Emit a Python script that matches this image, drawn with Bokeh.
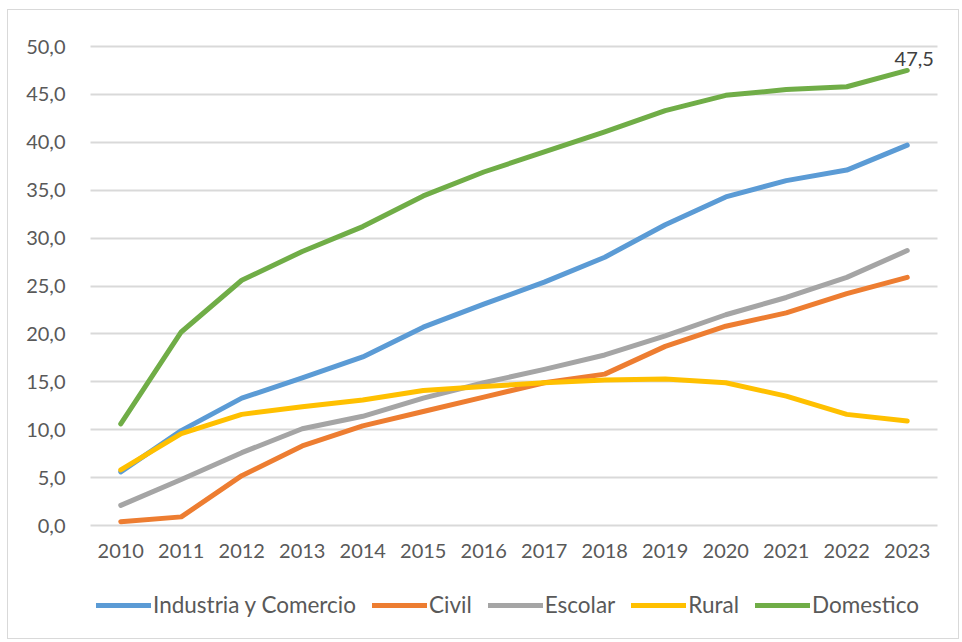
from bokeh.plotting import figure
from bokeh.models import (ColumnDataSource, Range1d, Legend, LegendItem,
                          FixedTicker, CustomJSTickFormatter)
from bokeh.core.properties import value
from bokeh.embed import file_html
from bokeh.resources import INLINE

years = list(range(2010, 2024))
industria = [5.6, 9.9, 13.3, 15.4, 17.6, 20.7, 23.1, 25.4, 28.0, 31.4, 34.3, 36.0, 37.1, 39.7]
civil = [0.4, 0.9, 5.2, 8.3, 10.4, 11.9, 13.4, 14.9, 15.8, 18.7, 20.8, 22.2, 24.2, 25.9]
escolar = [2.1, 4.8, 7.6, 10.1, 11.4, 13.3, 14.9, 16.3, 17.8, 19.8, 22.0, 23.8, 25.9, 28.7]
rural = [5.8, 9.6, 11.6, 12.4, 13.1, 14.1, 14.5, 14.9, 15.2, 15.3, 14.9, 13.5, 11.6, 10.9]
domestico = [10.6, 20.2, 25.6, 28.6, 31.2, 34.4, 36.9, 39.0, 41.1, 43.3, 44.9, 45.5, 45.8, 47.5]
series_names = ["Industria y Comercio", "Civil", "Escolar", "Rural", "Domestico"]
y_ticks = [0, 5, 10, 15, 20, 25, 30, 35, 40, 45, 50]

colors = ["#5B9BD5", "#ED7D31", "#A5A5A5", "#FFC000", "#70AD47"]
FONT = "Lato"
TXT = "#595959"

# layout (pixels inside the figure)
W, H = 952, 630
PLOT_L, PLOT_R = 82, 929        # left / right edge of the plotting area
Y0_PX, Y50_PX = 515, 36         # pixel rows of 0 and 50
x_lo, x_hi = years[0] - 0.5, years[-1] + 0.5
xpx = (PLOT_R - PLOT_L) / (x_hi - x_lo)
ypx = (Y0_PX - Y50_PX) / 50.0
x_range = Range1d(x_lo - PLOT_L / xpx, x_hi + (W - PLOT_R) / xpx)
y_range = Range1d(-(H - Y0_PX) / ypx, 50 + Y50_PX / ypx)

p = figure(width=W, height=H, x_range=x_range, y_range=y_range,
           output_backend="svg", toolbar_location=None, min_border=0)
p.outline_line_color = None
p.background_fill_color = "white"
p.border_fill_color = "white"
p.styles = {"border": "1px solid #d9d9d9", "margin-left": "7px", "margin-top": "9px"}

p.xgrid.grid_line_color = None
p.ygrid.grid_line_color = "#d9d9d9"
p.ygrid.grid_line_width = 2
p.ygrid.cross_bounds = (x_lo, x_hi)

p.yaxis.ticker = FixedTicker(ticks=y_ticks)
p.yaxis.formatter = CustomJSTickFormatter(code="return tick.toFixed(1).replace('.', ',');")
p.xaxis.ticker = FixedTicker(ticks=years)
p.xaxis.formatter = CustomJSTickFormatter(code="return tick.toFixed(0);")
p.yaxis.fixed_location = x_lo
p.xaxis.fixed_location = 0
for ax in (p.xaxis[0], p.yaxis[0]):
    ax.axis_line_color = None
    ax.major_tick_line_color = None
    ax.minor_tick_line_color = None
    ax.major_tick_out = 0
    ax.major_tick_in = 0
    ax.minor_tick_out = 0
    ax.major_label_text_font = FONT
    ax.major_label_text_font_size = "20px"
    ax.major_label_text_color = TXT
p.yaxis.major_label_standoff = 25
p.xaxis.major_label_standoff = 18

data = [industria, civil, escolar, rural, domestico]
items = []
for name, vals, col in zip(series_names, data, colors):
    src = ColumnDataSource(dict(x=years, y=vals))
    r = p.line("x", "y", source=src, line_color=col, line_width=5, line_cap="round", line_join="round")
    items.append(LegendItem(label=name, renderers=[r]))

lbl = ColumnDataSource(dict(x=[years[-1]], y=[domestico[-1]],
                            t=[f"{domestico[-1]:.1f}".replace(".", ",")]))
p.text("x", "y", text="t", source=lbl, text_font=value(FONT), text_font_size="20px",
       text_color="#404040", text_align="center", text_baseline="bottom",
       x_offset=7, y_offset=-4)

legend = Legend(items=items, orientation="horizontal", location=(88, 22),
                label_text_font=FONT, label_text_font_size="22.5px", label_text_color=TXT,
                glyph_width=55, glyph_height=20, label_standoff=2, spacing=16,
                border_line_color=None, background_fill_alpha=0, margin=0, padding=4)
p.add_layout(legend, "center")

open("out.html", "w").write(file_html(p, INLINE))
